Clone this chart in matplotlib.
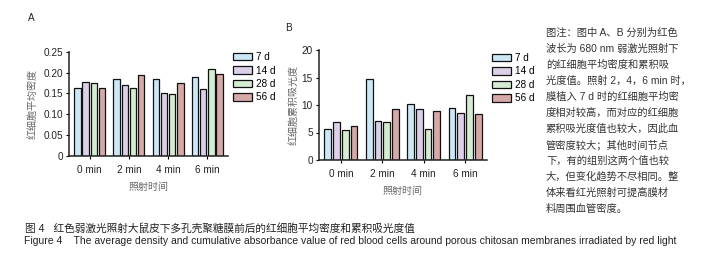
import matplotlib
matplotlib.use("Agg")
import matplotlib.pyplot as plt
import numpy as np

plt.rcParams['font.family'] = ['Liberation Sans', 'Noto Sans CJK SC', 'DejaVu Sans']

# ---- data ----
groups = ["0 min", "2 min", "4 min", "6 min"]
series = ["7 d", "14 d", "28 d", "56 d"]
density_7d = [0.164, 0.184, 0.185, 0.189]
density_14d = [0.178, 0.169, 0.150, 0.161]
density_28d = [0.174, 0.164, 0.149, 0.209]
density_56d = [0.162, 0.193, 0.176, 0.196]
absorb_7d = [5.6, 14.8, 10.1, 9.5]
absorb_14d = [6.85, 7.15, 9.35, 8.5]
absorb_28d = [5.45, 6.85, 5.6, 11.9]
absorb_56d = [6.1, 9.35, 8.85, 8.3]
yticks_a = [0, 0.05, 0.10, 0.15, 0.20, 0.25]
yticklabels_a = ["0", "0.05", "0.10", "0.15", "0.20", "0.25"]
yticks_b = [0, 5, 10, 15, 20]
yticklabels_b = ["0", "5", "10", "15", "20"]

colors = ["#cce8f6", "#dcd0e8", "#d5ebd2", "#d6a9a9"]

note_lines = [
    "图注：图中 A、B 分别为红色",
    "波长为 680 nm 弱激光照射下",
    "的红细胞平均密度和累积吸",
    "光度值。照射 2，4，6 min 时，",
    "膜植入 7 d 时的红细胞平均密",
    "度相对较高，而对应的红细胞",
    "累积吸光度值也较大，因此血",
    "管密度较大；其他时间节点",
    "下，有的组别这两个值也较",
    "大，但变化趋势不尽相同。整",
    "体来看红光照射可提高膜材",
    "料周围血管密度。",
]

W, H = 708, 264
fig = plt.figure(figsize=(W / 100, H / 100), dpi=100)
fig.patch.set_facecolor("white")


def fx(px):
    return px / W


def fy(py):
    return 1 - py / H


def draw_panel(rect, data, yticks, yticklabels, ylim, ylabel, legend_xy, ylabelpad):
    ax = fig.add_axes(rect)
    x = np.arange(len(groups))
    step = 0.21
    width = 0.165
    bars = []
    for i, (vals, c, lab) in enumerate(zip(data, colors, series)):
        off = (i - 1.5) * step
        # subtle drop shadow
        ax.bar(x + off + 0.02, vals, width, color="#222222", zorder=1,
               linewidth=0)
        b = ax.bar(x + off, vals, width, color=c, edgecolor="#111111",
                   linewidth=0.9, label=lab, zorder=2)
        bars.append(b)
    ax.set_xlim(-0.53, 3.53)
    ax.set_ylim(*ylim)
    ax.set_xticks(x)
    ax.set_xticklabels(groups, fontsize=7.2, color="#222222")
    ax.set_yticks(yticks)
    ax.set_yticklabels(yticklabels, fontsize=7.2, color="#222222")
    ax.tick_params(axis="both", length=2.5, width=0.8, pad=2)
    ax.tick_params(axis="x", pad=4)
    for s in ["top", "right"]:
        ax.spines[s].set_visible(False)
    for s in ["left", "bottom"]:
        ax.spines[s].set_linewidth(1.1)
        ax.spines[s].set_color("#222222")
    ax.set_ylabel(ylabel, fontsize=7.2, color="#666666", labelpad=ylabelpad)
    ax.set_xlabel("照射时间", fontsize=7.2, color="#666666", labelpad=5)
    leg = ax.legend(handles=bars, labels=series, loc="upper left",
                    bbox_to_anchor=legend_xy, bbox_transform=fig.transFigure,
                    frameon=False, fontsize=7.2, handlelength=1.9,
                    handleheight=0.75, handletextpad=0.4, labelspacing=0.35,
                    borderaxespad=0, borderpad=0)
    for h in leg.legend_handles:
        h.set_linewidth(0.9)
    return ax


draw_panel([fx(69), fy(156), fx(228) - fx(69), fy(51.7) - fy(156)],
           [density_7d, density_14d, density_28d, density_56d],
           yticks_a, yticklabels_a, (0, 0.25), "红细胞平均密度",
           (fx(233), fy(52)), 4)
draw_panel([fx(319), fy(160), fx(487) - fx(319), fy(50) - fy(160)],
           [absorb_7d, absorb_14d, absorb_28d, absorb_56d],
           yticks_b, yticklabels_b, (0, 20), "红细胞累积吸光度",
           (fx(492), fy(53)), 2)

fig.text(fx(28), fy(18), "A", fontsize=7.2, ha="left", va="center", color="#222222")
fig.text(fx(285), fy(28), "B", fontsize=7.2, ha="left", va="center", color="#222222")

for k, line in enumerate(note_lines):
    fig.text(fx(546), fy(33 + 16 * k), line, fontsize=7.4, ha="left",
             va="center", color="#333333")

fig.text(fx(25), fy(228), "图 4   红色弱激光照射大鼠皮下多孔壳聚糖膜前后的红细胞平均密度和累积吸光度值",
         fontsize=7.7, ha="left", va="center", color="#222222")
fig.text(fx(24), fy(241),
         "Figure 4    The average density and cumulative absorbance value of red blood cells around porous chitosan membranes irradiated by red light",
         fontsize=7.45, ha="left", va="center", color="#222222")

fig.savefig("out.png", dpi=100, facecolor="white")
